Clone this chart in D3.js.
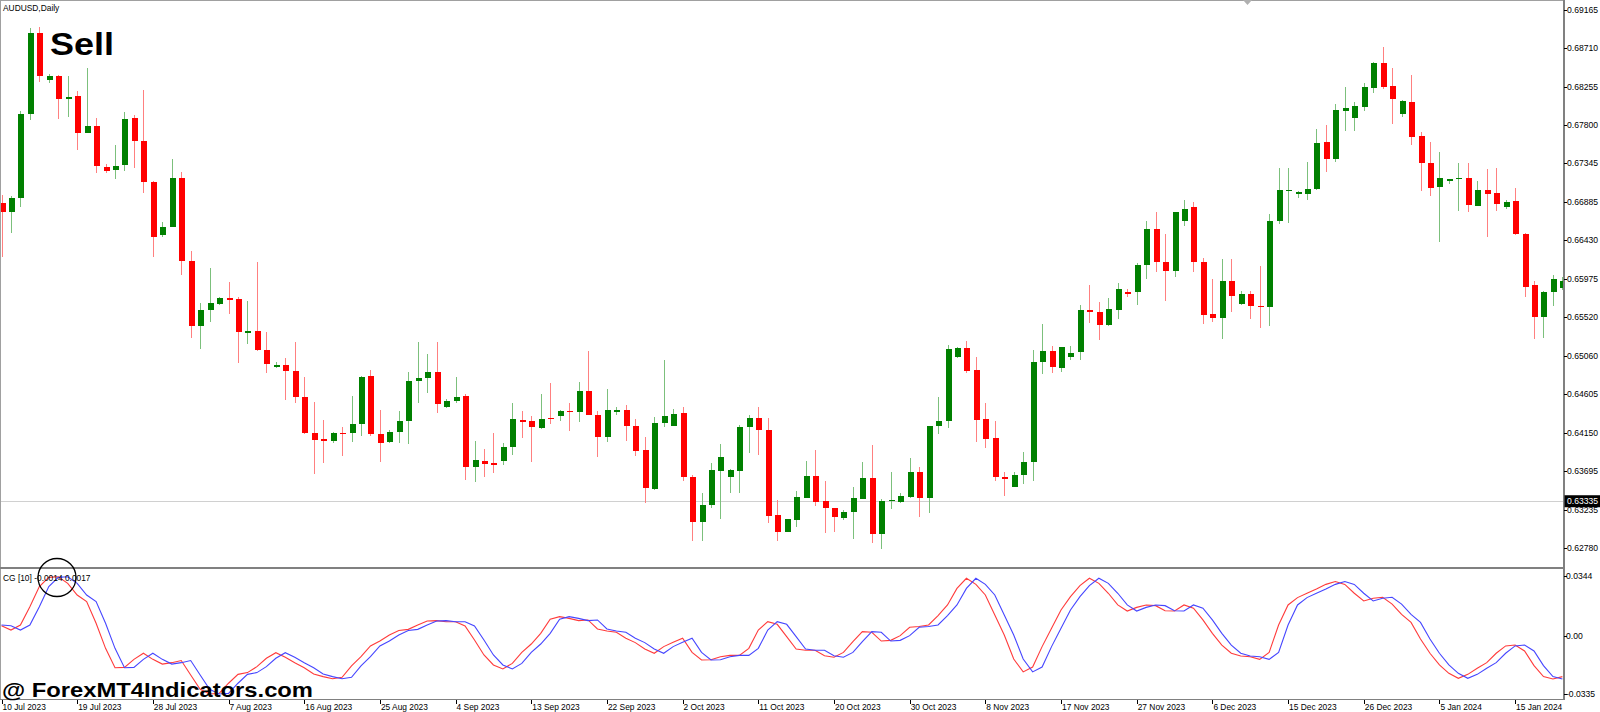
<!DOCTYPE html>
<html>
<head>
<meta charset="utf-8">
<title>AUDUSD, Daily</title>
<script src="https://cdn.jsdelivr.net/npm/d3@7"></script>
<style>
  body { margin: 0; background: #fff; }
  svg { display: block; }
  text { font-family: "Liberation Sans", Arial, sans-serif; fill: #000; }
</style>
</head>
<body>
<svg id="chart"></svg>
<script>
// Daily candles, 10 Jul 2023 .. 19 Jan 2024 (broker has Sunday bars)
const open = [0.66878,0.66771,0.66930,0.67927,0.68889,0.68334,0.68382,0.68105,0.68141,0.67709,
  0.67785,0.67305,0.67263,0.67326,0.67880,0.67614,0.67124,0.66495,0.66593,0.67168,
  0.66186,0.65418,0.65605,0.65676,0.65744,0.65732,0.65335,0.65355,0.65126,0.64928,
  0.64955,0.64884,0.64576,0.64141,0.64070,0.64050,0.64148,0.64141,0.64248,0.64818,
  0.64129,0.64035,0.64160,0.64287,0.64766,0.64801,0.64872,0.64457,0.64525,0.64584,
  0.63745,0.63816,0.63785,0.63813,0.63975,0.64299,0.64287,0.64208,0.64326,0.64350,
  0.64406,0.64398,0.64647,0.64362,0.64101,0.64398,0.64418,0.64228,0.63943,0.63480,
  0.64267,0.64232,0.64382,0.63623,0.63085,0.63290,0.63697,0.63619,0.63697,0.64220,
  0.64326,0.64184,0.63168,0.62973,0.63116,0.63377,0.63638,0.63341,0.63255,0.63136,
  0.63211,0.63365,0.63611,0.62943,0.63338,0.63330,0.63389,0.63686,0.63370,0.64232,
  0.64287,0.65050,0.65157,0.64893,0.64311,0.64082,0.63623,0.63504,0.63646,0.63804,
  0.64991,0.65118,0.64916,0.65050,0.65110,0.65605,0.65577,0.65423,0.65605,0.65818,
  0.65815,0.66139,0.66562,0.66178,0.66071,0.66664,0.66827,0.66178,0.65554,0.65513,
  0.65949,0.65676,0.65798,0.65656,0.65644,0.66657,0.67017,0.66981,0.66985,0.67041,
  0.67595,0.67400,0.67970,0.67880,0.68017,0.68243,0.68536,0.68263,0.67934,0.68073,
  0.67670,0.67349,0.67064,0.67136,0.67163,0.67175,0.66842,0.67029,0.66997,0.66827,
  0.66898,0.66510,0.65901,0.65525,0.65815,0.65869];
const high = [0.66969,0.66958,0.67970,0.68948,0.68960,0.68405,0.68394,0.68382,0.68204,0.68473,
  0.67880,0.67334,0.67563,0.67951,0.67919,0.68216,0.67132,0.66653,0.67393,0.67242,
  0.66305,0.65691,0.66100,0.65763,0.65933,0.65763,0.65711,0.66178,0.65340,0.64988,
  0.65031,0.65221,0.64806,0.64516,0.64299,0.64160,0.64220,0.64584,0.64821,0.64893,
  0.64418,0.64181,0.64406,0.64872,0.65228,0.65082,0.65221,0.64545,0.64806,0.64608,
  0.64054,0.63951,0.64148,0.64030,0.64497,0.64406,0.64347,0.64608,0.64742,0.64418,
  0.64497,0.64747,0.65118,0.64406,0.64664,0.64450,0.64474,0.64307,0.64101,0.64335,
  0.65011,0.64426,0.64457,0.63646,0.63436,0.63785,0.64011,0.63718,0.64240,0.64359,
  0.64457,0.64319,0.63350,0.63124,0.63457,0.63809,0.63943,0.63575,0.63258,0.63231,
  0.63500,0.63801,0.64006,0.63362,0.63686,0.63436,0.63852,0.63738,0.64232,0.64569,
  0.65189,0.65169,0.65237,0.65043,0.64505,0.64287,0.63679,0.63682,0.63919,0.65130,
  0.65435,0.65177,0.65169,0.65181,0.65664,0.65901,0.65700,0.65751,0.65922,0.65850,
  0.66159,0.66661,0.66764,0.66507,0.66771,0.66910,0.66883,0.66218,0.65973,0.66206,
  0.66206,0.65834,0.65834,0.66127,0.66740,0.67293,0.67293,0.67021,0.67358,0.67753,
  0.67800,0.68046,0.68255,0.68077,0.68302,0.68548,0.68722,0.68473,0.68097,0.68394,
  0.67714,0.67602,0.67483,0.67159,0.67349,0.67349,0.67132,0.67274,0.67293,0.66910,
  0.67049,0.66522,0.65952,0.65830,0.66020,0.65993];
const low = [0.66237,0.66515,0.66831,0.67860,0.68307,0.68302,0.67875,0.67892,0.67504,0.67702,
  0.67227,0.67227,0.67156,0.67254,0.67293,0.66990,0.66230,0.66475,0.66586,0.66020,
  0.65276,0.65142,0.65459,0.65664,0.65557,0.64972,0.65201,0.65118,0.64861,0.64920,
  0.64537,0.64505,0.64133,0.63658,0.63792,0.64023,0.63872,0.64042,0.64109,0.64109,
  0.63804,0.64030,0.64030,0.64014,0.64497,0.64616,0.64386,0.64438,0.64505,0.63587,
  0.63563,0.63626,0.63674,0.63765,0.63884,0.64089,0.63804,0.64192,0.64252,0.64291,
  0.64169,0.64279,0.64359,0.63857,0.64035,0.64359,0.64050,0.63876,0.63318,0.63468,
  0.64220,0.64228,0.63575,0.62867,0.62867,0.63251,0.63128,0.63436,0.63429,0.63904,
  0.63884,0.63080,0.62863,0.62970,0.63033,0.63370,0.63282,0.62962,0.62973,0.63112,
  0.62890,0.63362,0.62843,0.62765,0.63239,0.63318,0.63370,0.63152,0.63192,0.64133,
  0.64201,0.65039,0.64853,0.64042,0.63970,0.63579,0.63397,0.63500,0.63536,0.63575,
  0.64842,0.64857,0.64869,0.65011,0.65011,0.65447,0.65249,0.65415,0.65501,0.65763,
  0.65664,0.65969,0.66059,0.65715,0.66000,0.66605,0.66052,0.65439,0.65459,0.65257,
  0.65584,0.65664,0.65501,0.65395,0.65418,0.66622,0.66641,0.66930,0.66910,0.67029,
  0.67246,0.67365,0.67733,0.67733,0.67970,0.68184,0.68231,0.67812,0.67899,0.67563,
  0.67021,0.66961,0.66408,0.67096,0.66780,0.66771,0.66835,0.66475,0.66780,0.66807,
  0.66498,0.65763,0.65260,0.65269,0.65652,0.65842];
const close = [0.66771,0.66930,0.67931,0.68889,0.68385,0.68382,0.68105,0.68133,0.67709,0.67788,
  0.67314,0.67258,0.67317,0.67871,0.67614,0.67120,0.66475,0.66593,0.67168,0.66186,
  0.65418,0.65605,0.65684,0.65744,0.65727,0.65340,0.65355,0.65130,0.64964,0.64955,
  0.64884,0.64576,0.64141,0.64062,0.64046,0.64148,0.64133,0.64248,0.64813,0.64129,
  0.64030,0.64160,0.64287,0.64766,0.64794,0.64872,0.64489,0.64525,0.64576,0.63745,
  0.63824,0.63777,0.63769,0.63975,0.64307,0.64284,0.64213,0.64311,0.64311,0.64402,
  0.64394,0.64647,0.64362,0.64101,0.64418,0.64418,0.64228,0.63935,0.63489,0.64267,
  0.64347,0.64374,0.63619,0.63085,0.63290,0.63702,0.63857,0.63702,0.64220,0.64326,
  0.64181,0.63163,0.62970,0.63121,0.63382,0.63638,0.63330,0.63251,0.63152,0.63211,
  0.63370,0.63611,0.62943,0.63341,0.63353,0.63397,0.63686,0.63377,0.64228,0.64284,
  0.65142,0.65157,0.64884,0.64299,0.64077,0.63619,0.63603,0.63650,0.63797,0.64991,
  0.65118,0.64928,0.65162,0.65091,0.65605,0.65577,0.65423,0.65613,0.65854,0.65803,
  0.66142,0.66562,0.66178,0.66071,0.66764,0.66807,0.66178,0.65545,0.65513,0.65949,
  0.65774,0.65791,0.65652,0.65644,0.66661,0.67025,0.67032,0.67002,0.67041,0.67587,
  0.67400,0.67975,0.68006,0.68026,0.68248,0.68536,0.68255,0.68112,0.68082,0.67661,
  0.67346,0.67056,0.67168,0.67159,0.67175,0.66851,0.67029,0.66985,0.66863,0.66886,
  0.66503,0.65881,0.65525,0.65822,0.65973,0.65952];

// Center of Gravity (10) and its signal line
const cgMain = [0.0059,0.0034,0.0063,0.0168,0.0283,0.0336,0.0340,0.0302,0.0235,0.0197,
  0.0073,-0.0071,-0.0182,-0.0180,-0.0134,-0.0099,-0.0134,-0.0161,-0.0153,-0.0141,
  -0.0224,-0.0306,-0.0333,-0.0329,-0.0271,-0.0220,-0.0210,-0.0176,-0.0128,-0.0096,
  -0.0122,-0.0153,-0.0182,-0.0218,-0.0233,-0.0245,-0.0237,-0.0172,-0.0119,-0.0057,
  -0.0029,0.0006,0.0031,0.0038,0.0063,0.0086,0.0088,0.0082,0.0082,0.0057,
  -0.0023,-0.0109,-0.0166,-0.0189,-0.0157,-0.0094,-0.0046,0.0015,0.0096,0.0111,
  0.0101,0.0088,0.0092,0.0040,0.0029,0.0021,-0.0013,-0.0038,-0.0075,-0.0099,
  -0.0061,-0.0036,-0.0013,-0.0094,-0.0138,-0.0136,-0.0119,-0.0111,-0.0111,-0.0071,
  0.0034,0.0082,0.0067,-0.0004,-0.0075,-0.0082,-0.0082,-0.0113,-0.0122,-0.0094,
  -0.0032,0.0025,0.0021,-0.0029,-0.0025,0.0002,0.0050,0.0054,0.0063,0.0117,
  0.0178,0.0273,0.0331,0.0296,0.0235,0.0120,0.0006,-0.0132,-0.0206,-0.0178,
  -0.0061,0.0044,0.0149,0.0226,0.0289,0.0331,0.0302,0.0245,0.0178,0.0143,
  0.0164,0.0178,0.0174,0.0145,0.0143,0.0178,0.0159,0.0092,0.0015,-0.0052,
  -0.0099,-0.0115,-0.0119,-0.0134,-0.0094,0.0063,0.0178,0.0220,0.0245,0.0269,
  0.0296,0.0312,0.0296,0.0245,0.0201,0.0216,0.0222,0.0183,0.0124,0.0078,
  -0.0017,-0.0099,-0.0166,-0.0214,-0.0243,-0.0220,-0.0185,-0.0153,-0.0099,-0.0057,
  -0.0052,-0.0086,-0.0170,-0.0233,-0.0247,-0.0233];
const cgSignal = [0.0063,0.0059,0.0034,0.0063,0.0168,0.0283,0.0336,0.0340,0.0302,0.0235,
  0.0197,0.0073,-0.0071,-0.0182,-0.0180,-0.0134,-0.0099,-0.0134,-0.0161,-0.0153,
  -0.0141,-0.0224,-0.0306,-0.0333,-0.0329,-0.0271,-0.0220,-0.0210,-0.0176,-0.0128,
  -0.0096,-0.0122,-0.0153,-0.0182,-0.0218,-0.0233,-0.0245,-0.0237,-0.0172,-0.0119,
  -0.0057,-0.0029,0.0006,0.0031,0.0038,0.0063,0.0086,0.0088,0.0082,0.0082,
  0.0057,-0.0023,-0.0109,-0.0166,-0.0189,-0.0157,-0.0094,-0.0046,0.0015,0.0096,
  0.0111,0.0101,0.0088,0.0092,0.0040,0.0029,0.0021,-0.0013,-0.0038,-0.0075,
  -0.0099,-0.0061,-0.0036,-0.0013,-0.0094,-0.0138,-0.0136,-0.0119,-0.0111,-0.0111,
  -0.0071,0.0034,0.0082,0.0067,-0.0004,-0.0075,-0.0082,-0.0082,-0.0113,-0.0122,
  -0.0094,-0.0032,0.0025,0.0021,-0.0029,-0.0025,0.0002,0.0050,0.0054,0.0063,
  0.0117,0.0178,0.0273,0.0331,0.0296,0.0235,0.0120,0.0006,-0.0132,-0.0206,
  -0.0178,-0.0061,0.0044,0.0149,0.0226,0.0289,0.0331,0.0302,0.0245,0.0178,
  0.0143,0.0164,0.0178,0.0174,0.0145,0.0143,0.0178,0.0159,0.0092,0.0015,
  -0.0052,-0.0099,-0.0115,-0.0119,-0.0134,-0.0094,0.0063,0.0178,0.0220,0.0245,
  0.0269,0.0296,0.0312,0.0296,0.0245,0.0201,0.0216,0.0222,0.0183,0.0124,
  0.0078,-0.0017,-0.0099,-0.0166,-0.0214,-0.0243,-0.0220,-0.0185,-0.0153,-0.0099,
  -0.0057,-0.0052,-0.0086,-0.0170,-0.0233,-0.0247];

// Axis labels
const priceTicks = [0.69165,0.68710,0.68255,0.67800,0.67345,0.66885,0.66430,0.65975,
  0.65520,0.65060,0.64605,0.64150,0.63695,0.63235,0.62780];
const cgTicks = [0.0344, 0.0, -0.0335];
const cgTickLabels = ["0.0344", "0.00", "-0.0335"];
const dateTickBars = [0,8,16,24,32,40,48,56,64,72,80,88,96,104,112,120,128,136,144,152,160];
const dateTickLabels = ["10 Jul 2023","19 Jul 2023","28 Jul 2023","7 Aug 2023","16 Aug 2023",
  "25 Aug 2023","4 Sep 2023","13 Sep 2023","22 Sep 2023","2 Oct 2023","11 Oct 2023",
  "20 Oct 2023","30 Oct 2023","8 Nov 2023","17 Nov 2023","27 Nov 2023","6 Dec 2023",
  "15 Dec 2023","26 Dec 2023","5 Jan 2024","15 Jan 2024"];
const markedPrice = 0.63335;

// Chart dimensions
const width = 1600;
const height = 712;
const plotRight = 1563;
const mainBottom = 567;
const cgTop = 569;
const cgBottom = 699;
const bodyWidth = 6;

const svg = d3.select("#chart").attr("width", width).attr("height", height);

const xScale = d3.scaleLinear().domain([0, open.length - 1]).range([1.5, 1562.4]);
const yScale = d3.scaleLinear().domain([0.6278, 0.69165]).range([548, 10]);
const cgScale = d3.scaleLinear().domain([-0.0335, 0.0344]).range([694.4, 576]);

const defs = svg.append("defs");
defs.append("clipPath").attr("id", "clip-main")
  .append("rect").attr("x", 0).attr("y", 1).attr("width", plotRight).attr("height", mainBottom - 1);
defs.append("clipPath").attr("id", "clip-cg")
  .append("rect").attr("x", 0).attr("y", cgTop).attr("width", plotRight).attr("height", cgBottom - cgTop);

// Marked price line
svg.append("line")
  .attr("x1", 0).attr("x2", plotRight)
  .attr("y1", Math.round(yScale(markedPrice)) + 0.5)
  .attr("y2", Math.round(yScale(markedPrice)) + 0.5)
  .attr("stroke", "#d0d0d0");

// Candles
const bars = open.map((o, i) => ({ i, o, h: high[i], l: low[i], c: close[i], up: close[i] >= o }));
const candles = svg.append("g").attr("clip-path", "url(#clip-main)").attr("shape-rendering", "crispEdges");

candles.selectAll("line.wick")
  .data(bars)
  .enter()
  .append("line")
  .attr("class", "wick")
  .attr("x1", (d) => Math.round(xScale(d.i)) + 0.5)
  .attr("x2", (d) => Math.round(xScale(d.i)) + 0.5)
  .attr("y1", (d) => yScale(d.h))
  .attr("y2", (d) => yScale(d.l))
  .attr("stroke", (d) => (d.up ? "#7cc07c" : "#ff8080"));

candles.selectAll("rect.body")
  .data(bars)
  .enter()
  .append("rect")
  .attr("class", "body")
  .attr("x", (d) => Math.round(xScale(d.i)) - 2.5)
  .attr("width", bodyWidth)
  .attr("y", (d) => yScale(Math.max(d.o, d.c)))
  .attr("height", (d) => Math.max(1.5, Math.abs(yScale(d.o) - yScale(d.c))))
  .attr("fill", (d) => (d.up ? "#008000" : "#ff0000"));

// CG indicator lines
const cgLine = d3.line().x((d, i) => xScale(i)).y((d) => cgScale(d));
const cgGroup = svg.append("g").attr("clip-path", "url(#clip-cg)");
cgGroup.append("path").datum(cgMain)
  .attr("d", cgLine).attr("fill", "none").attr("stroke", "#ff3b3b").attr("stroke-width", 1.1);
cgGroup.append("path").datum(cgSignal)
  .attr("d", cgLine).attr("fill", "none").attr("stroke", "#4646ff").attr("stroke-width", 1.1);

// Frames and separators
const frame = svg.append("g").attr("shape-rendering", "crispEdges");
frame.append("line").attr("x1", 0).attr("x2", plotRight).attr("y1", 0.5).attr("y2", 0.5).attr("stroke", "#a0a0a0");
frame.append("line").attr("x1", 0.5).attr("x2", 0.5).attr("y1", 0).attr("y2", cgBottom).attr("stroke", "#a0a0a0");
frame.append("rect").attr("x", 0).attr("y", mainBottom).attr("width", plotRight + 1).attr("height", 2).attr("fill", "#808080");
frame.append("line").attr("x1", 0).attr("x2", plotRight).attr("y1", cgBottom + 0.5).attr("y2", cgBottom + 0.5).attr("stroke", "#808080");
frame.append("rect").attr("x", plotRight).attr("y", 0).attr("width", 1.5).attr("height", cgBottom + 1).attr("fill", "#808080");

// Chart shift marker
svg.append("path").attr("d", "M1243,0 L1252,0 L1247.5,5 Z").attr("fill", "#b0b0b0");

// Price axis
const priceAxis = svg.append("g");
priceAxis.selectAll("line")
  .data(priceTicks)
  .enter()
  .append("line")
  .attr("x1", plotRight + 1).attr("x2", plotRight + 4)
  .attr("y1", (d) => Math.round(yScale(d)) + 0.5)
  .attr("y2", (d) => Math.round(yScale(d)) + 0.5)
  .attr("stroke", "#000");
priceAxis.selectAll("text")
  .data(priceTicks)
  .enter()
  .append("text")
  .attr("x", plotRight + 4)
  .attr("y", (d) => yScale(d))
  .attr("dy", "0.35em")
  .attr("font-size", 8.6)
  .text((d) => d.toFixed(5));

// Marked price label
const markY = yScale(markedPrice);
svg.append("rect").attr("x", plotRight + 1.5).attr("y", markY - 6).attr("width", 36).attr("height", 12).attr("fill", "#000");
svg.append("text").attr("x", plotRight + 4).attr("y", markY).attr("dy", "0.35em")
  .attr("font-size", 8.6).style("fill", "#fff").text(markedPrice.toFixed(5));

// CG axis
const cgAxis = svg.append("g");
cgAxis.selectAll("line")
  .data(cgTicks)
  .enter()
  .append("line")
  .attr("x1", plotRight + 1).attr("x2", plotRight + 4)
  .attr("y1", (d) => Math.round(cgScale(d)) + 0.5)
  .attr("y2", (d) => Math.round(cgScale(d)) + 0.5)
  .attr("stroke", "#000");
cgAxis.selectAll("text")
  .data(cgTicks)
  .enter()
  .append("text")
  .attr("x", plotRight + 3)
  .attr("y", (d) => cgScale(d))
  .attr("dy", "0.35em")
  .attr("font-size", 8.6)
  .text((d, i) => cgTickLabels[i]);

// Date axis
const dateAxis = svg.append("g");
dateAxis.selectAll("line")
  .data(dateTickBars)
  .enter()
  .append("line")
  .attr("x1", (d) => Math.round(xScale(d)) + 0.5)
  .attr("x2", (d) => Math.round(xScale(d)) + 0.5)
  .attr("y1", cgBottom + 1).attr("y2", cgBottom + 5)
  .attr("stroke", "#000");
dateAxis.selectAll("text")
  .data(dateTickBars)
  .enter()
  .append("text")
  .attr("x", (d) => xScale(d) + 1)
  .attr("y", 710)
  .attr("font-size", 8.4)
  .text((d, i) => dateTickLabels[i]);

// Titles and annotations
svg.append("text").attr("x", 3).attr("y", 10.5).attr("font-size", 8.4).text("AUDUSD,Daily");
svg.append("text").attr("x", 3).attr("y", 580.5).attr("font-size", 8.4).text("CG [10] -0.0014 0.0017");
svg.append("circle").attr("cx", 57).attr("cy", 577.5).attr("r", 19)
  .attr("fill", "none").attr("stroke", "#000").attr("stroke-width", 1.3);

svg.append("text")
  .attr("x", 50).attr("y", 55)
  .attr("font-family", "'DejaVu Sans', Verdana, sans-serif")
  .attr("font-weight", "bold").attr("font-size", 32)
  .attr("textLength", 64).attr("lengthAdjust", "spacingAndGlyphs")
  .text("Sell");

svg.append("text")
  .attr("x", 2).attr("y", 697)
  .attr("font-family", "'DejaVu Sans', Verdana, sans-serif")
  .attr("font-weight", "bold").attr("font-size", 20.5)
  .attr("textLength", 311).attr("lengthAdjust", "spacingAndGlyphs")
  .text("@ ForexMT4Indicators.com");
</script>
</body>
</html>
